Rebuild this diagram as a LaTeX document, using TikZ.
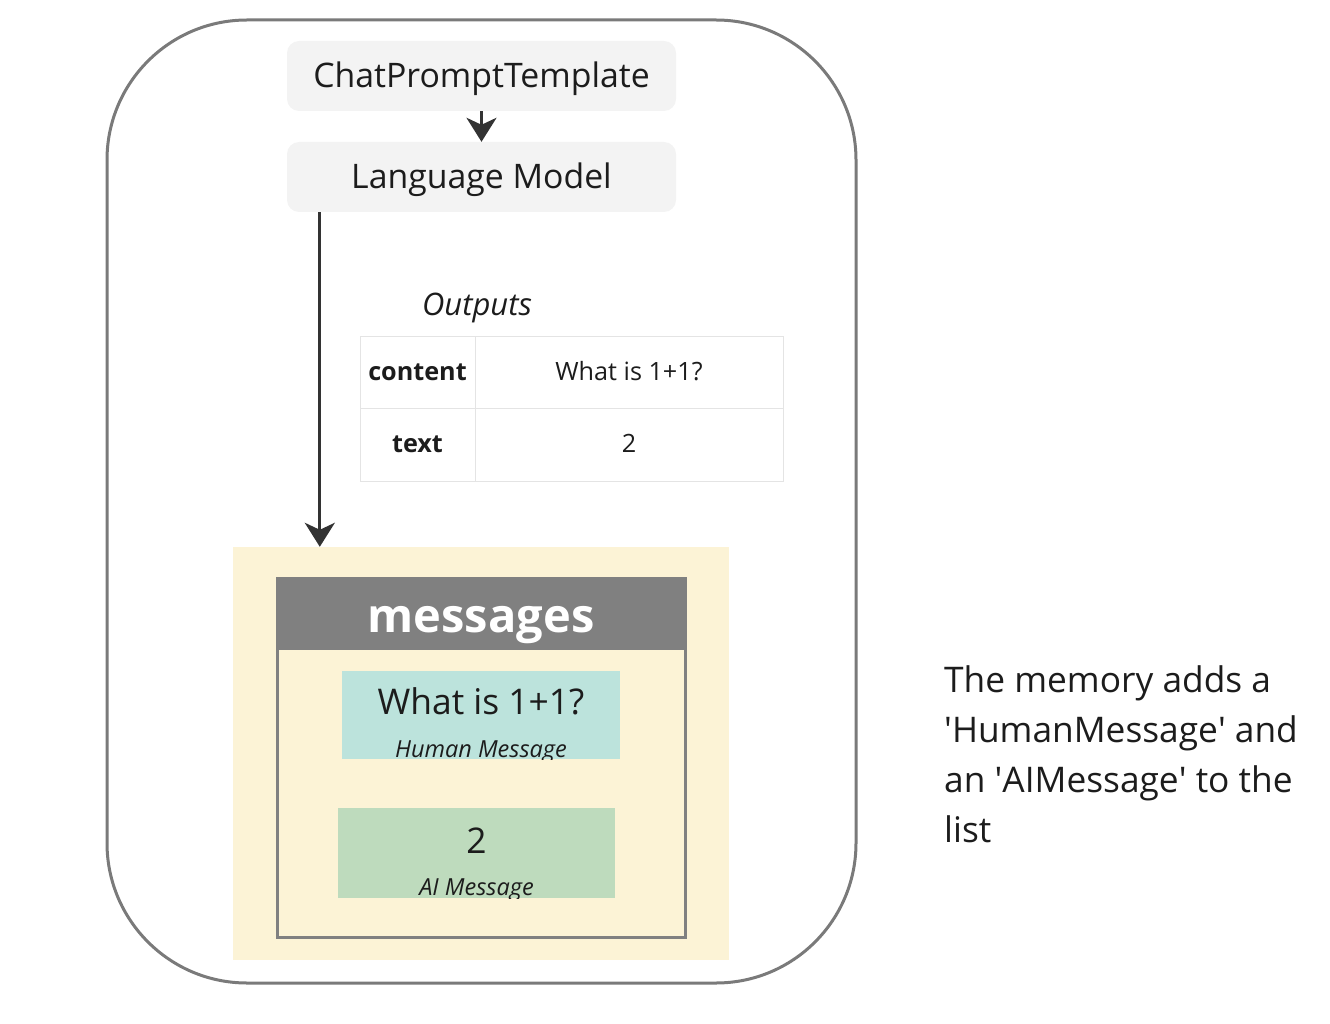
\documentclass[tikz,border=0pt]{standalone}
\usepackage{fontspec}
\setmainfont{Open Sans}
\usetikzlibrary{arrows.meta}
\definecolor{boxgray}{HTML}{F3F3F3}
\definecolor{arrowdark}{HTML}{333333}
\definecolor{outergray}{HTML}{7A7A7A}
\definecolor{memyellow}{HTML}{FCF3D6}
\definecolor{headgray}{HTML}{808080}
\definecolor{humancol}{HTML}{BCE3DC}
\definecolor{aicol}{HTML}{BEDBBD}
\definecolor{tablegray}{HTML}{E4E4E4}
\definecolor{txt}{HTML}{1C1C1C}
\begin{document}
\begin{tikzpicture}[x=1pt,y=-1pt,
  txtstyle/.style={text=txt, inner sep=0pt},
  pbox/.style={fill=boxgray, rounded corners=12pt, minimum width=389pt, minimum height=70pt,
    inner sep=0pt, text=txt, font=\fontsize{33.8}{40}\selectfont, text height=28pt, text depth=4pt},
  arr/.style={draw=arrowdark, line width=3pt, -{Stealth[length=24pt,width=30pt,inset=7pt]}},
  cell/.style={draw=tablegray, line width=1pt, inner sep=0pt, text=txt,
    font=\fontsize{25.2}{28}\selectfont, text height=20pt, text depth=4pt},
]
\useasboundingbox (0,0) rectangle (1330,1024);
% outer container
\draw[draw=outergray, line width=3pt, rounded corners=140pt] (107,20) rectangle (856,983);

% top boxes
\node[pbox] (cpt) at (481.5,76) {ChatPromptTemplate};
\node[pbox] (lm) at (481.5,177) {Language Model};
\draw[arr] (cpt.south) -- (lm.north);

% Outputs table
\node[txtstyle, anchor=base, font=\fontsize{31}{34}\selectfont\itshape] (outl) at (477,315) {Outputs};
\node[cell, minimum width=115pt, minimum height=72pt, font=\fontsize{25.2}{28}\selectfont\bfseries] (c11) at (417.5,372) {content};
\node[cell, minimum width=308pt, minimum height=72pt] (c12) at (629,372) {What is 1+1?};
\node[cell, minimum width=115pt, minimum height=73pt, font=\fontsize{25.2}{28}\selectfont\bfseries] (c21) at (417.5,444.5) {text};
\node[cell, minimum width=308pt, minimum height=73pt] (c22) at (629,444.5) {2};

% memory area
\node[fill=memyellow, minimum width=496pt, minimum height=413pt, inner sep=0pt] (mem) at (481,753.5) {};
\draw[arr] ([xshift=33pt]lm.south west) -- ([xshift=87pt]mem.north west);

% messages list
\node[draw=headgray, line width=3pt, minimum width=408pt, minimum height=359pt, inner sep=0pt] (list) at (481,757.5) {};
\node[fill=headgray, minimum width=408pt, minimum height=73pt, inner sep=0pt, anchor=north] (head) at (list.north) {};
\node[text=white, inner sep=0pt, anchor=base, font=\fontsize{47}{52}\selectfont\bfseries] (headt) at (481,632) {messages};

% human message
\node[fill=humancol, minimum width=278pt, minimum height=88pt, inner sep=0pt] (hm) at (481,715) {};
\node[txtstyle, anchor=base, font=\fontsize{35.4}{40}\selectfont] (hmt) at (481,714) {What is 1+1?};
\begin{scope}
\clip (hm.north west) rectangle (hm.south east);
\node[txtstyle, anchor=base, font=\fontsize{23.5}{26}\selectfont\itshape] (hml) at (481,757) {Human Message};
\end{scope}

% AI message
\node[fill=aicol, minimum width=277pt, minimum height=90pt, inner sep=0pt] (ai) at (476.5,853) {};
\node[txtstyle, anchor=base, font=\fontsize{35.4}{40}\selectfont] (ait) at (476.5,853) {2};
\begin{scope}
\clip (ai.north west) rectangle (ai.south east);
\node[txtstyle, anchor=base, font=\fontsize{23.5}{26}\selectfont\itshape] (ail) at (476.5,895) {AI Message};
\end{scope}

% side note
\node[txtstyle, anchor=north west, align=left, font=\fontsize{35.3}{50}\selectfont] (note) at (944,665)
  {The memory adds a\\\textquotesingle HumanMessage\textquotesingle{} and\\an \textquotesingle AIMessage\textquotesingle{} to the\\list};
\end{tikzpicture}
\end{document}
